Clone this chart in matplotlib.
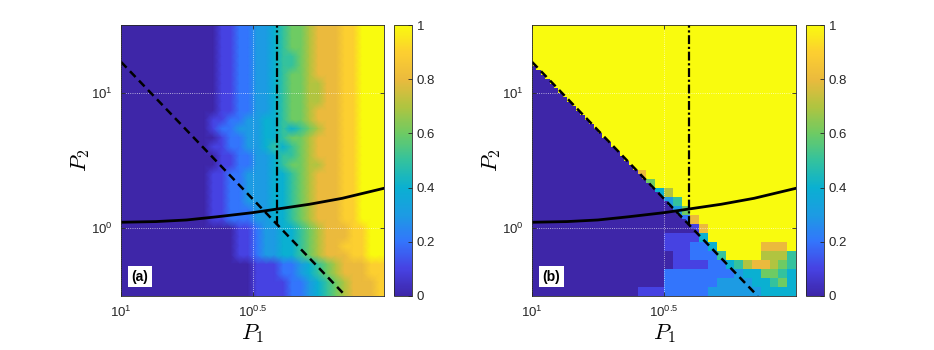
import numpy as np
import matplotlib
matplotlib.use('Agg')
import matplotlib.pyplot as plt
from matplotlib.colors import LinearSegmentedColormap
from matplotlib.ticker import NullLocator

plt.rcParams['font.family'] = ['Liberation Sans', 'DejaVu Sans']
plt.rcParams['mathtext.fontset'] = 'custom'
plt.rcParams['mathtext.rm'] = 'Liberation Sans'
plt.rcParams['mathtext.it'] = 'Liberation Sans:italic'

# heatmap values, one char per cell ('0'..'9','A' -> 0.0..1.0), top row first
# panel (a): 30 x 30 cells
grid_a = [
    "0" * 11 + "1122334566788899AAA",
    "0" * 11 + "1122334566788899AAA",
    "0" * 11 + "1122334566788899AAA",
    "0" * 11 + "1122334556788899AAA",
    "0" * 11 + "1122334556788899AAA",
    "0" * 11 + "1122334566788899AAA",
    "0" * 11 + "1122334566778899AAA",
    "0" * 11 + "1122334566778899AAA",
    "0" * 11 + "1122334566778899AAA",
    "0" * 11 + "1122334566788899AAA",
    "0" * 10 + "11223344566788899AAA",
    "0" * 10 + "12233344545678899AAA",
    "0" * 11 + "1223344566788899AAA",
    "0" * 10 + "11223345456788899AAA",
    "0" * 11 + "1122334556788899AAA",
    "0" * 11 + "1122334566778899AAA",
    "0" * 10 + "11223334456788899AAA",
    "0" * 10 + "11223334456788899AAA",
    "0" * 10 + "11223334456788899AAA",
    "0" * 10 + "11223334456788899AAA",
    "0" * 10 + "11222334456788899AAA",
    "0" * 10 + "11222334456788899AAA",
    "0" * 13 + "112334456788899AA",
    "0" * 13 + "112334456788899AA",
    "0" * 13 + "112334456788999AA",
    "0" * 13 + "112334456788899AA",
    "0" * 15 + "111223456788899",
    "0" * 15 + "111223456788899",
    "0" * 15 + "111122345678889",
    "0" * 15 + "111122345678889",
]

# panel (b): 60 x 60 cells
grid_b = [
    "A" * 60,
    "A" * 60,
    "A" * 60,
    "A" * 60,
    "A" * 60,
    "A" * 60,
    "A" * 60,
    "A" * 60,
    "A" * 60,
    "0" * 1 + "A" * 59,
    "0" * 2 + "A" * 58,
    "0" * 3 + "A" * 57,
    "0" * 4 + "A" * 56,
    "0" * 5 + "A" * 55,
    "0" * 6 + "A" * 54,
    "0" * 7 + "A" * 53,
    "0" * 8 + "A" * 52,
    "0" * 9 + "A" * 51,
    "0" * 10 + "A" * 50,
    "0" * 11 + "A" * 49,
    "0" * 12 + "A" * 48,
    "0" * 13 + "A" * 47,
    "0" * 14 + "A" * 46,
    "0" * 15 + "A" * 45,
    "0" * 16 + "A" * 44,
    "0" * 17 + "A" * 43,
    "0" * 18 + "A" * 42,
    "0" * 19 + "A" * 41,
    "0" * 20 + "A" * 40,
    "0" * 21 + "A" * 39,
    "0" * 22 + "A" * 38,
    "0" * 23 + "A" * 37,
    "0" * 24 + "88" + "A" * 34,
    "0" * 25 + "8" + "A" * 34,
    "0" * 26 + "66" + "A" * 32,
    "0" * 27 + "6" + "A" * 32,
    "0" * 28 + "4477" + "A" * 28,
    "0" * 29 + "477" + "A" * 28,
    "0" * 30 + "3355" + "A" * 26,
    "0" * 31 + "355" + "A" * 26,
    "0" * 32 + "3366" + "A" * 24,
    "0" * 33 + "366" + "A" * 24,
    "0" * 34 + "2288" + "A" * 22,
    "0" * 35 + "288" + "A" * 22,
    "0" * 36 + "1188" + "A" * 20,
    "0" * 37 + "188" + "A" * 20,
    "0" * 30 + "1" * 8 + "44" + "A" * 20,
    "0" * 30 + "1" * 8 + "44" + "A" * 20,
    "0" * 30 + "111111" + "2222" + "44" + "A" * 10 + "888888" + "AA",
    "0" * 30 + "111111" + "2222" + "44" + "A" * 10 + "888888" + "AA",
    "0" * 32 + "1111" + "222222" + "55" + "A" * 8 + "777777" + "55",
    "0" * 32 + "1111" + "222222" + "55" + "A" * 8 + "777777" + "55",
    "0" * 32 + "1" * 8 + "2222" + "44557788" + "88776655",
    "0" * 32 + "1" * 8 + "2222" + "44557788" + "88776655",
    "0" * 30 + "2" * 16 + "33" + "4444" + "6666" + "55" + "44",
    "0" * 30 + "2" * 16 + "33" + "4444" + "6666" + "55" + "44",
    "0" * 30 + "2" * 12 + "3" * 8 + "4444" + "55" + "66" + "44",
    "0" * 30 + "2" * 12 + "3" * 8 + "4444" + "55" + "66" + "44",
    "0" * 24 + "111111" + "2" * 10 + "3" * 12 + "4" * 8,
    "0" * 24 + "111111" + "2" * 10 + "3" * 12 + "4" * 8,
]

# boundary lines
dash_p1 = [0.1, 36.7]
dash_p2 = [16.9, 0.316]
vline_p1 = [6.08, 6.08]
vline_p2 = [1.06, 31.6]
curve_p1 = [0.1, 0.25, 0.56, 1.26, 3.16, 6.08, 14.1, 33.3, 100]
curve_p2 = [1.107, 1.12, 1.151, 1.216, 1.303, 1.387, 1.503, 1.663, 1.972]

xtick_vals = [0.1, 10 ** 0.5]
xtick_labels = [r'$\mathregular{10^{1}}$', r'$\mathregular{10^{0.5}}$']
ytick_vals = [1, 10]
ytick_labels = [r'$\mathregular{10^{0}}$', r'$\mathregular{10^{1}}$']
cbar_ticks = [0, 0.2, 0.4, 0.6, 0.8, 1]
cbar_labels = ['0', '0.2', '0.4', '0.6', '0.8', '1']

# approximate MATLAB parula
parula_pts = [
    (0.00, (0.2422, 0.1504, 0.6603)),
    (0.10, (0.2760, 0.2600, 0.8900)),
    (0.20, (0.2000, 0.4600, 0.9900)),
    (0.30, (0.1100, 0.6100, 0.8900)),
    (0.40, (0.0400, 0.6900, 0.8200)),
    (0.50, (0.2000, 0.7600, 0.6200)),
    (0.60, (0.4300, 0.7950, 0.3900)),
    (0.70, (0.6900, 0.7700, 0.2500)),
    (0.80, (0.9200, 0.7300, 0.2400)),
    (0.90, (0.9900, 0.8100, 0.1900)),
    (1.00, (0.9763, 0.9831, 0.0538)),
]
parula = LinearSegmentedColormap.from_list('parula', parula_pts)

axcol = (0.15, 0.15, 0.15)
fig = plt.figure(figsize=(9.34, 3.5), dpi=100)


def draw_panel(rect, cb_rect, rows, tag, smooth):
    ax = fig.add_axes(rect)
    vals = np.array([[int(c, 16) for c in r] for r in rows]) / 10.0
    ny, nx = vals.shape
    xe = np.logspace(-1, 2, nx + 1)
    ye = np.logspace(1.5, -0.5, ny + 1)
    if smooth:
        # cell centres plus the outer edges, shaded smoothly
        xc = np.concatenate([[xe[0]], np.sqrt(xe[:-1] * xe[1:]), [xe[-1]]])
        yc = np.concatenate([[ye[0]], np.sqrt(ye[:-1] * ye[1:]), [ye[-1]]])
        mesh = ax.pcolormesh(xc, yc, np.pad(vals, 1, mode='edge'), cmap=parula,
                             vmin=0, vmax=1, shading='gouraud')
    else:
        mesh = ax.pcolormesh(xe, ye, vals, cmap=parula, vmin=0, vmax=1, shading='flat')
    ax.set_xscale('log')
    ax.set_yscale('log')
    ax.set_xlim(0.1, 100)
    ax.set_ylim(10 ** -0.5, 10 ** 1.5)

    ax.plot(dash_p1, dash_p2, color='k', ls='--', lw=1.8, dashes=(3.2, 2.0))
    ax.plot(vline_p1, vline_p2, color='k', ls='-.', lw=1.6, dashes=(4, 1.2, 1, 1.2))
    ax.plot(curve_p1, curve_p2, color='k', lw=2)

    ax.xaxis.set_minor_locator(NullLocator())
    ax.yaxis.set_minor_locator(NullLocator())
    ax.set_xticks(xtick_vals)
    ax.set_xticklabels(xtick_labels)
    ax.set_yticks(ytick_vals)
    ax.set_yticklabels(ytick_labels)
    ax.tick_params(direction='in', top=True, right=True, length=3, width=0.6,
                   labelsize=9.5, colors=axcol, pad=6)
    ax.grid(True, color='white', ls=':', lw=0.6, alpha=0.8)
    for s in ax.spines.values():
        s.set_color(axcol)
        s.set_linewidth(0.6)

    ax.set_xlabel('$P_1$', fontsize=16, math_fontfamily='cm', labelpad=2)
    ax.set_ylabel('$P_2$', fontsize=16, math_fontfamily='cm', labelpad=-1)
    ax.text(0.04, 0.045, tag, transform=ax.transAxes, fontsize=10, fontweight='bold',
            va='bottom', ha='left',
            bbox=dict(facecolor='white', edgecolor='none', pad=2.5))

    cax = fig.add_axes(cb_rect)
    cb = fig.colorbar(mesh, cax=cax, ticks=cbar_ticks)
    cb.ax.set_yticklabels(cbar_labels)
    cb.ax.tick_params(direction='in', length=3, width=0.6, labelsize=9.5, colors=axcol)
    cb.outline.set_edgecolor(axcol)
    cb.outline.set_linewidth(0.6)


draw_panel([121 / 934, 54 / 350, 263 / 934, 271 / 350],
           [394 / 934, 54 / 350, 18 / 934, 271 / 350], grid_a, '(a)', True)
draw_panel([532 / 934, 54 / 350, 264 / 934, 271 / 350],
           [806 / 934, 54 / 350, 18 / 934, 271 / 350], grid_b, '(b)', False)

fig.savefig('out.png', dpi=100)
